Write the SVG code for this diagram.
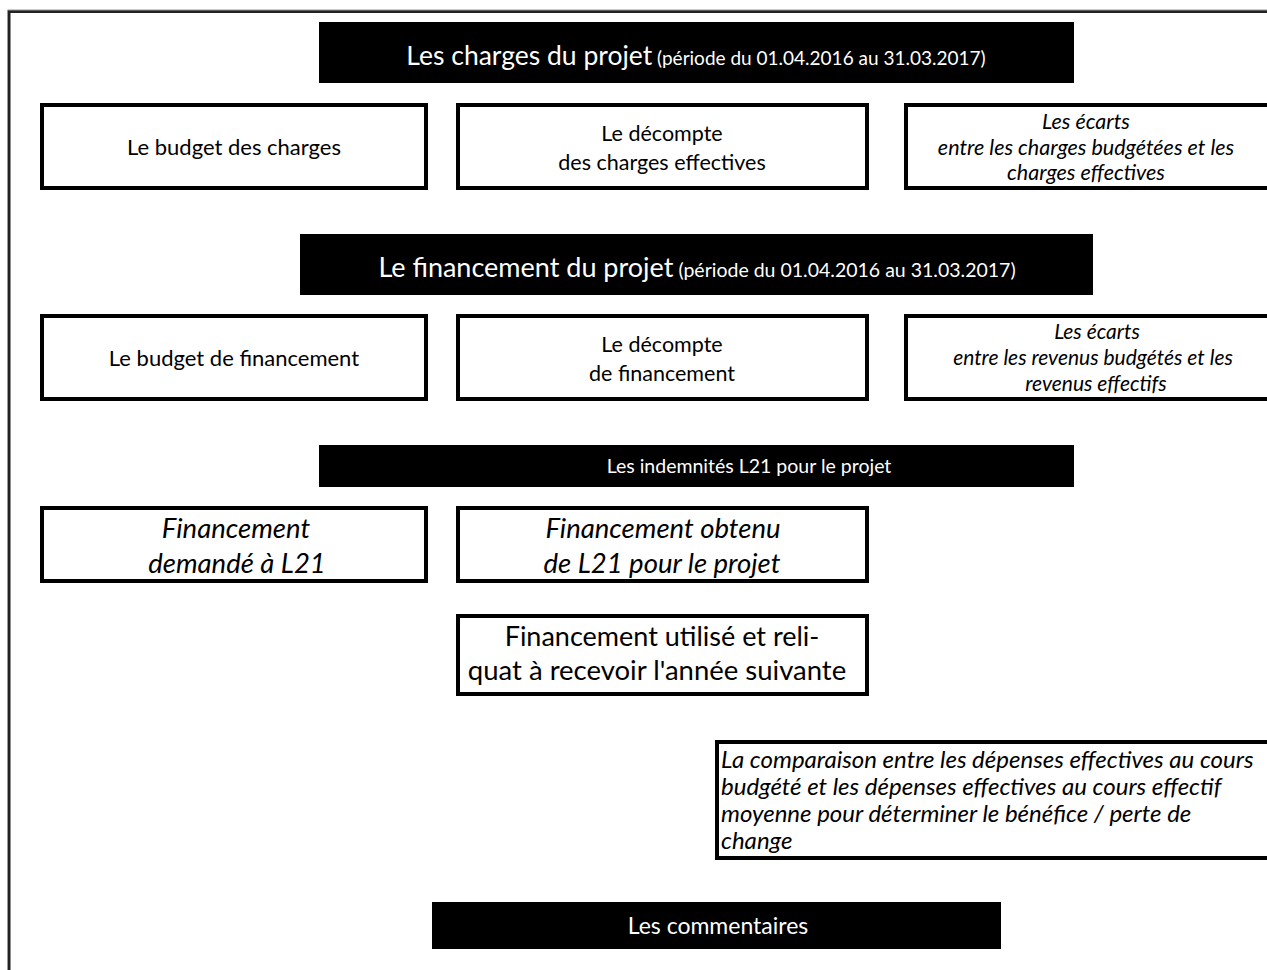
<svg xmlns="http://www.w3.org/2000/svg" width="1267" height="970" viewBox="0 0 1267 970">
<style>
.box{fill:#fff;stroke:#000;stroke-width:4}
.hdr{fill:#000}
text{font-family:Lato,"Open Sans","Liberation Sans",sans-serif;fill:#000}
.w{fill:#fff}
.c{text-anchor:middle}
.i{font-style:italic}
</style>
<rect width="1267" height="970" fill="#fff"/>
<g id="frame">
<path d="M9,970 V11.5 H1267" fill="none" stroke="#222" stroke-width="3"/>
<path d="M7.5,970 V10 H1267" fill="none" stroke="#999" stroke-width="1"/>
</g>
<g id="connectors"></g>
<g id="h1">
<rect class="hdr" x="319" y="22" width="755" height="61"/>
<text class="w c" x="696" y="65"><tspan font-size="26.5">Les charges du projet</tspan><tspan font-size="19"> (période du 01.04.2016 au 31.03.2017)</tspan></text>
</g>
<g id="b11">
<rect class="box" x="42" y="105" width="384" height="83"/>
<text class="c" x="234" y="155" font-size="22">Le budget des charges</text>
</g>
<g id="b12">
<rect class="box" x="458" y="105" width="409" height="83"/>
<text class="c" x="662" y="140.5" font-size="21.5">Le décompte</text>
<text class="c" x="662" y="169.5" font-size="21.5">des charges effectives</text>
</g>
<g id="b13">
<rect class="box" x="906" y="105" width="380" height="83"/>
<text class="c i" x="1086" y="129" font-size="21.5">Les écarts</text>
<text class="c i" x="1086" y="155" font-size="21.5">entre les charges budgétées et les</text>
<text class="c i" x="1086" y="180" font-size="21.5">charges effectives</text>
</g>
<g id="h2">
<rect class="hdr" x="300" y="234" width="793" height="61"/>
<text class="w c" x="697" y="277"><tspan font-size="27">Le financement du projet</tspan><tspan font-size="19.5">  (période du 01.04.2016 au 31.03.2017)</tspan></text>
</g>
<g id="b21">
<rect class="box" x="42" y="316" width="384" height="83"/>
<text class="c" x="234" y="366" font-size="22">Le budget de financement</text>
</g>
<g id="b22">
<rect class="box" x="458" y="316" width="409" height="83"/>
<text class="c" x="662" y="351.5" font-size="21.5">Le décompte</text>
<text class="c" x="662" y="380.5" font-size="21.5">de financement</text>
</g>
<g id="b23">
<rect class="box" x="906" y="316" width="380" height="83"/>
<text class="c i" x="1097" y="339" font-size="21">Les écarts</text>
<text class="c i" x="1093" y="365" font-size="21">entre les revenus budgétés et les</text>
<text class="c i" x="1096" y="391" font-size="21">revenus effectifs</text>
</g>
<g id="h3">
<rect class="hdr" x="319" y="445" width="755" height="42"/>
<text class="w c" x="749" y="473" font-size="19.5">Les indemnités L21 pour le projet</text>
</g>
<g id="b31">
<rect class="box" x="42" y="508" width="384" height="73"/>
<text class="c i" x="236" y="537.5" font-size="27.5">Financement</text>
<text class="c i" x="237" y="572.5" font-size="27.5">demandé à L21</text>
</g>
<g id="b32">
<rect class="box" x="458" y="508" width="409" height="73"/>
<text class="c i" x="663" y="537.5" font-size="27.5">Financement obtenu</text>
<text class="c i" x="662" y="572.5" font-size="27.5">de L21 pour le projet</text>
</g>
<g id="b4">
<rect class="box" x="458" y="616" width="409" height="78"/>
<text class="c" x="662" y="645.5" font-size="27">Financement utilisé et reli-</text>
<text class="c" x="657" y="679.5" font-size="27.5">quat à recevoir l'année suivante</text>
</g>
<g id="b5">
<rect class="box" x="717" y="742" width="570" height="116"/>
<text class="i" x="721" y="768" font-size="24">La comparaison entre les dépenses effectives au cours</text>
<text class="i" x="721" y="795" font-size="24">budgété et les dépenses effectives au cours effectif</text>
<text class="i" x="721" y="822" font-size="24">moyenne pour déterminer le bénéfice / perte de</text>
<text class="i" x="721" y="849" font-size="24">change</text>
</g>
<g id="h4">
<rect class="hdr" x="432" y="902" width="569" height="47"/>
<text class="w c" x="718" y="934" font-size="23">Les commentaires</text>
</g>
</svg>
